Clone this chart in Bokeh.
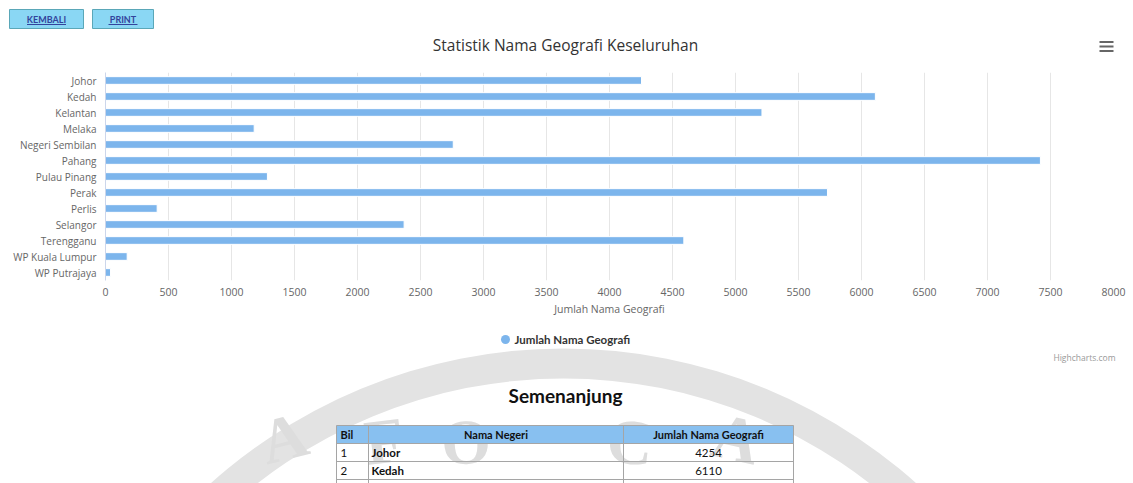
from bokeh.plotting import figure
from bokeh.layouts import column
from bokeh.models import Range1d, FactorRange, FixedTicker, ColumnDataSource
from bokeh.core.properties import value
from bokeh.embed import file_html
from bokeh.resources import INLINE

# ---------------- data ----------------
states = ["Johor", "Kedah", "Kelantan", "Melaka", "Negeri Sembilan", "Pahang",
          "Pulau Pinang", "Perak", "Perlis", "Selangor", "Terengganu",
          "WP Kuala Lumpur", "WP Putrajaya"]
counts = [4254, 6110, 5210, 1180, 2760, 7420, 1285, 5730, 410, 2370, 4590, 172, 40]
x_ticks = [0, 500, 1000, 1500, 2000, 2500, 3000, 3500, 4000, 4500, 5000,
           5500, 6000, 6500, 7000, 7500, 8000]
chart_title = "Statistik Nama Geografi Keseluruhan"
series_name = "Jumlah Nama Geografi"
axis_title = "Jumlah Nama Geografi"
button_labels = ["KEMBALI", "PRINT"]
credit_text = "Highcharts.com"
table_title = "Semenanjung"
table_headers = ["Bil", "Nama Negeri", "Jumlah Nama Geografi"]
table_bil = ["1", "2"]
table_negeri = states[:2]
table_jumlah = [str(c) for c in counts[:2]]
watermark_letters = ["A", "F", "O", "C", "A"]

# ---------------- styles ----------------
W = 1133
H1, H2, H3 = 62, 258, 163
BAR = "#7cb5ec"
SANS = value("Open Sans")
LATO = value("Lato")


def canvas(h):
    f = figure(width=W, height=h, x_range=Range1d(0, W), y_range=Range1d(h, 0),
               x_axis_type=None, y_axis_type=None, toolbar_location=None,
               output_backend="svg", min_border=0, frame_align=False)
    f.outline_line_color = None
    f.background_fill_color = "white"
    return f


# ---------------- header strip ----------------
f1 = canvas(H1)
btn_left = [9, 92]
btn_right = [83, 153]
f1.quad(left=btn_left, right=btn_right, top=[9, 9], bottom=[28, 28],
        fill_color="#8ad7f4", line_color="#5aa7b8", line_width=1)
btn_cx = [(a + b) / 2 for a, b in zip(btn_left, btn_right)]
f1.text(x=btn_cx, y=[19, 19], text=button_labels, text_font=LATO,
        text_font_size="9px", text_font_style="bold", text_color="#33449c",
        text_align="center", text_baseline="middle")
btn_tw = [39, 29]
f1.segment(x0=[c - w / 2 for c, w in zip(btn_cx, btn_tw)], y0=[24, 24],
           x1=[c + w / 2 for c, w in zip(btn_cx, btn_tw)], y1=[24, 24],
           line_color="#33449c", line_width=1)
f1.text(x=[565], y=[44], text=[chart_title], text_font=SANS,
        text_font_size="15.5px", text_color="#333333",
        text_align="center", text_baseline="middle")
f1.segment(x0=[1099] * 3, x1=[1113] * 3, y0=[41.5, 46, 50.5], y1=[41.5, 46, 50.5],
           line_color="#666666", line_width=2)

# ---------------- bar chart ----------------
f2 = figure(width=W, height=H2, y_range=FactorRange(factors=states[::-1]),
            x_range=Range1d(0, 8000), toolbar_location=None, output_backend="svg",
            min_border_left=105, min_border_right=20, min_border_top=10,
            min_border_bottom=40, frame_align=False)
f2.outline_line_color = None
src = ColumnDataSource(dict(state=states, count=counts))
f2.hbar(y="state", left=0, right="count", height=0.48, source=src,
        fill_color=BAR, line_color="white", line_width=1)

f2.xgrid.grid_line_color = "#e6e6e6"
f2.ygrid.grid_line_color = None
f2.xaxis.ticker = FixedTicker(ticks=x_ticks)
f2.xaxis.axis_line_color = None
f2.xaxis.major_tick_line_color = None
f2.xaxis.minor_tick_line_color = None
f2.xaxis.major_tick_out = 0
f2.xaxis.major_tick_in = 0
f2.xaxis.major_label_standoff = 7
f2.xaxis.major_label_text_font = "Open Sans"
f2.xaxis.major_label_text_font_size = "10.5px"
f2.xaxis.major_label_text_color = "#666666"
f2.xaxis.axis_label = axis_title
f2.xaxis.axis_label_text_font = "Open Sans"
f2.xaxis.axis_label_text_font_size = "10.5px"
f2.xaxis.axis_label_text_font_style = "normal"
f2.xaxis.axis_label_text_color = "#666666"
f2.xaxis.axis_label_standoff = 3

f2.yaxis.axis_line_color = "#ccd6eb"
f2.yaxis.major_tick_line_color = None
f2.yaxis.major_tick_out = 0
f2.yaxis.major_tick_in = 0
f2.yaxis.major_label_standoff = 9
f2.yaxis.major_label_text_font = "Open Sans"
f2.yaxis.major_label_text_font_size = "10px"
f2.yaxis.major_label_text_color = "#666666"

# ---------------- legend, credit, watermark, table ----------------
f3 = canvas(H3)
# watermark ring
f3.annulus(x=[563], y=[557], inner_radius=499, outer_radius=529,
           fill_color="#e3e3e3", line_color=None)
# watermark letters (kept inside the page)
wm_x = [292, 388, 467, 626, 728]
wm_y = [152, 156, 157, 157, 153]
wm_a = [0.25, 0.12, 0.04, -0.1, -0.22]
f3.text(x=wm_x, y=wm_y, text=watermark_letters, angle=wm_a,
        text_font=value("Liberation Serif"), text_font_style="bold",
        text_font_size="64px", text_color="#dddddd",
        text_align="center", text_baseline="bottom")

# legend
f3.scatter(x=[505], y=[19], marker="circle", size=9, fill_color=BAR, line_color=None)
f3.text(x=[514], y=[19], text=[series_name], text_font=LATO,
        text_font_size="11.5px", text_font_style="bold", text_color="#333333",
        text_align="left", text_baseline="middle")
# credit
f3.text(x=[1115], y=[37], text=[credit_text], text_font=SANS,
        text_font_size="8.5px", text_color="#999999",
        text_align="right", text_baseline="middle")
# table title
f3.text(x=[565], y=[75], text=[table_title], text_font=LATO,
        text_font_size="19px", text_font_style="bold", text_color="#111111",
        text_align="center", text_baseline="middle")

# table
col_x = [336, 368, 623, 793]
row_y = [105, 123, 141, 159]
f3.quad(left=[col_x[0]], right=[col_x[-1]], top=[row_y[0]], bottom=[row_y[1]],
        fill_color="#88c0f0", line_color=None)
f3.segment(x0=col_x, x1=col_x, y0=[row_y[0]] * 4, y1=[H3] * 4,
           line_color="#a5a5a5", line_width=1)
f3.segment(x0=[col_x[0]] * 4, x1=[col_x[-1]] * 4, y0=row_y, y1=row_y,
           line_color="#a5a5a5", line_width=1)
hy = (row_y[0] + row_y[1]) / 2
f3.text(x=[col_x[0] + 4], y=[hy], text=[table_headers[0]], text_font=LATO,
        text_font_size="11px", text_font_style="bold", text_color="#111111",
        text_align="left", text_baseline="middle")
f3.text(x=[(col_x[1] + col_x[2]) / 2, (col_x[2] + col_x[3]) / 2], y=[hy, hy],
        text=table_headers[1:], text_font=LATO,
        text_font_size="11px", text_font_style="bold", text_color="#111111",
        text_align="center", text_baseline="middle")
ry = [(row_y[i] + row_y[i + 1]) / 2 for i in range(1, 3)]
f3.text(x=[col_x[0] + 4] * 2, y=ry, text=table_bil, text_font=LATO,
        text_font_size="11.5px", text_color="#111111",
        text_align="left", text_baseline="middle")
f3.text(x=[col_x[1] + 3] * 2, y=ry, text=table_negeri, text_font=LATO,
        text_font_size="11.5px", text_font_style="bold", text_color="#111111",
        text_align="left", text_baseline="middle")
f3.text(x=[(col_x[2] + col_x[3]) / 2] * 2, y=ry, text=table_jumlah, text_font=LATO,
        text_font_size="11.5px", text_color="#111111",
        text_align="center", text_baseline="middle")

layout = column(f1, f2, f3, spacing=0)
open("out.html", "w").write(file_html(layout, INLINE))
